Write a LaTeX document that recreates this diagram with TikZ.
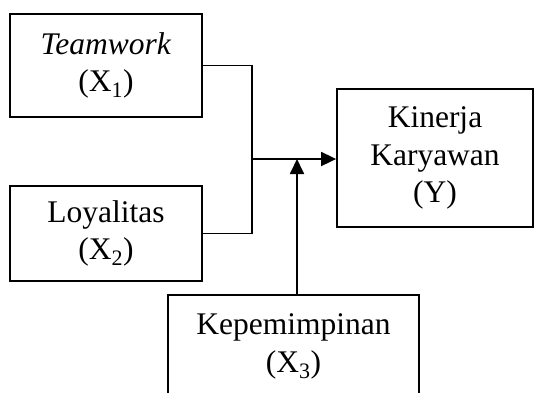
\documentclass[tikz,border=0pt]{standalone}
\usepackage{fontspec}
\setmainfont{Liberation Serif}
\usetikzlibrary{arrows.meta}
\begin{document}
\begin{tikzpicture}[x=1pt,y=-1pt,
  varbox/.style={draw,line width=1.8pt,rectangle,align=center,inner sep=0pt,
    font=\fontsize{31.5}{37.5}\selectfont},
  link/.style={line width=1.8pt},
  arr/.style={line width=1.8pt,-{Triangle[length=15pt,width=14pt]}}]
\useasboundingbox (0,0) rectangle (542,392);
\clip (0,0) rectangle (542,392);
\node[varbox,minimum width=192pt,minimum height=103pt] (b1) at (106,65.5) {\textit{Teamwork}\\(X\textsubscript{1})};
\node[varbox,minimum width=192pt,minimum height=95pt] (b2) at (106,233.5) {Loyalitas\\(X\textsubscript{2})};
\node[varbox,minimum width=196pt,minimum height=138pt] (b3) at (435,158) {Kinerja\\Karyawan\\(Y)};
\node[varbox,minimum width=251pt,minimum height=104pt] (b4) at (293.5,347) {};
\node[font=\fontsize{31.5}{37.5}\selectfont,align=center,inner sep=0pt,anchor=base] (t4) at (293.5,372) {Kepemimpinan\\(X\textsubscript{3})};
\coordinate (J) at (252,159);
\coordinate (K) at (297,295);
\draw[link] (b1.east) -| (J);
\draw[link] (b2.east) -| (J);
\draw[arr] (J) -- (J -| b3.west);
\draw[arr] (K) -- (K |- J);
\end{tikzpicture}
\end{document}
